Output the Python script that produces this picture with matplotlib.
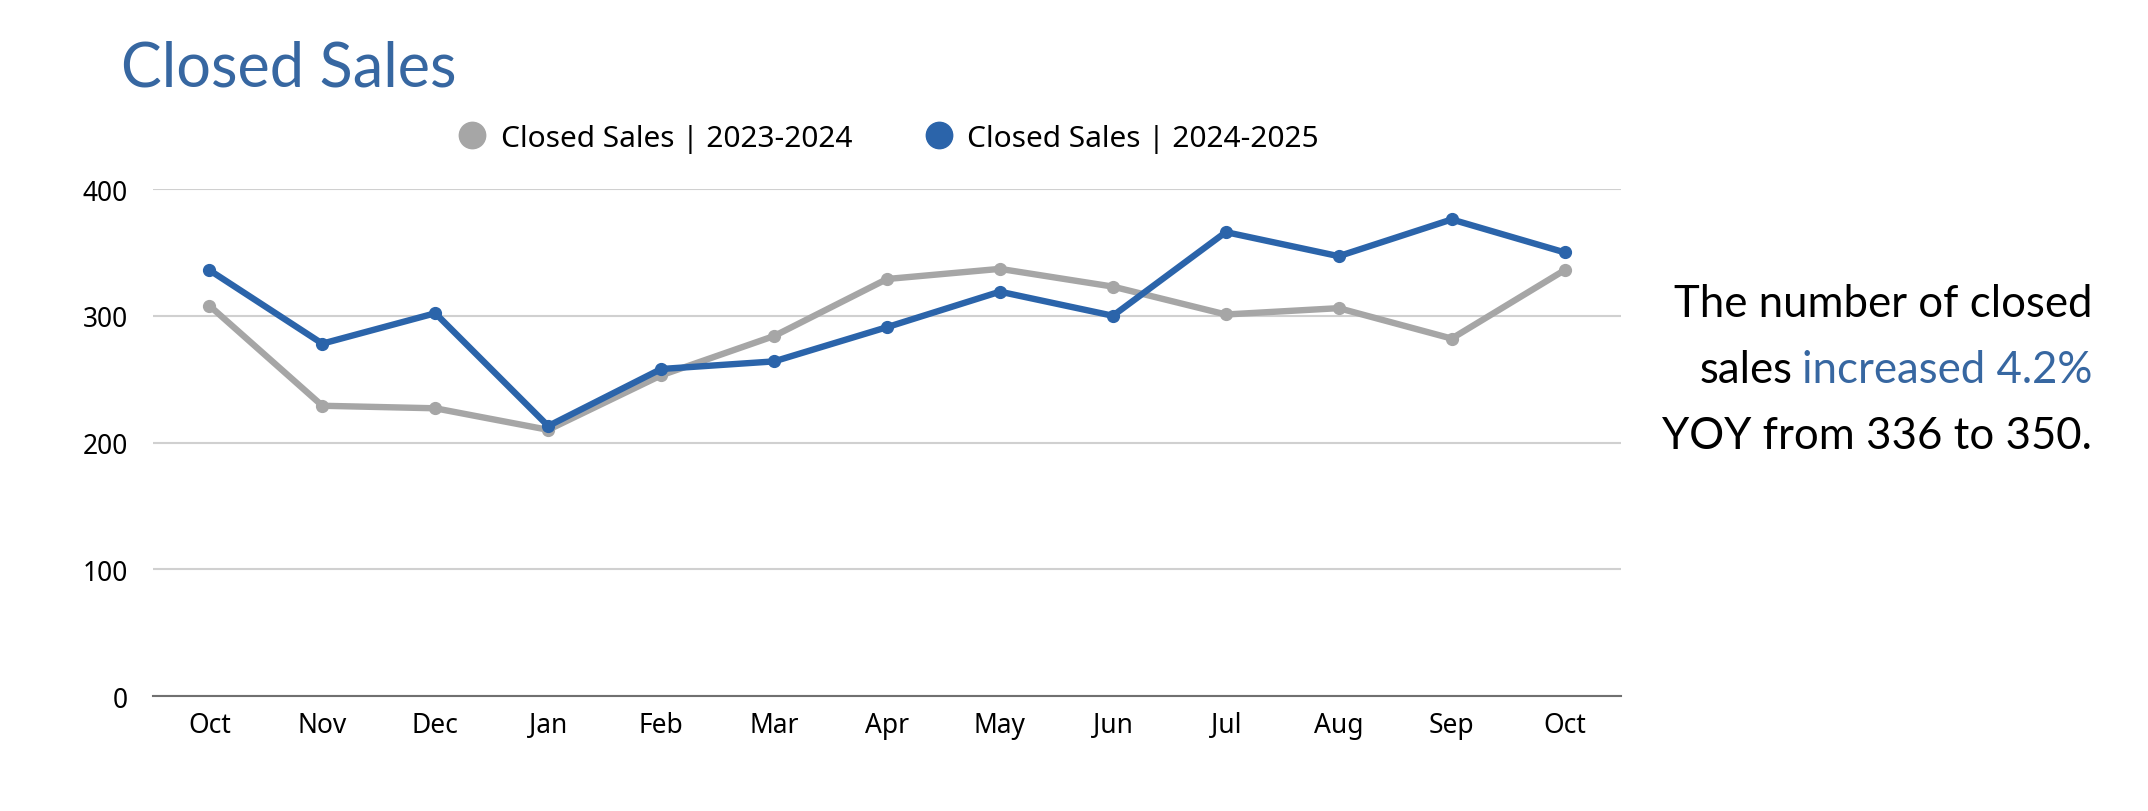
import matplotlib.pyplot as plt
from matplotlib.lines import Line2D
import numpy as np

# data
months = ['Oct', 'Nov', 'Dec', 'Jan', 'Feb', 'Mar', 'Apr',
          'May', 'Jun', 'Jul', 'Aug', 'Sep', 'Oct']
sales_2324 = [308, 229, 227, 210, 253, 284, 329, 337, 323, 301, 306, 282, 336]
sales_2425 = [336, 278, 302, 213, 258, 264, 291, 319, 300, 366, 347, 376, 350]
label_2324 = 'Closed Sales | 2023-2024'
label_2425 = 'Closed Sales | 2024-2025'

gray = '#A6A6A6'
blue = '#2B64AA'
title_blue = '#3767A1'

plt.rcParams['font.family'] = ['Noto Sans', 'DejaVu Sans']
head_font = ['Lato', 'DejaVu Sans']

fig = plt.figure(figsize=(21.48, 8.12), dpi=100)
ax = fig.add_axes([0.0712, 0.1416, 0.6835, 0.6244])

x = np.arange(len(months))
ax.plot(x, sales_2324, color=gray, lw=4.6, marker='o', ms=8.5,
        solid_capstyle='round', zorder=3)
ax.plot(x, sales_2425, color=blue, lw=4.6, marker='o', ms=8.5,
        solid_capstyle='round', zorder=4)

ax.set_xlim(-0.5, len(months) - 0.5)
ax.set_ylim(0, 400)
ax.set_yticks([0, 100, 200, 300, 400])
ax.set_xticks(x)
ax.set_xticklabels(months)
ax.tick_params(axis='both', length=0, labelsize=19)
ax.tick_params(axis='x', pad=11)
ax.tick_params(axis='y', pad=18)
ax.grid(axis='y', color='#D0D0D0', lw=1.5, zorder=0)
ax.set_axisbelow(True)
for s in ['top', 'right', 'left']:
    ax.spines[s].set_visible(False)
ax.spines['bottom'].set_color('#707070')
ax.spines['bottom'].set_linewidth(1.5)
ax.spines['bottom'].set_zorder(2)

# title
fig.text(121 / 2148, 1 - 69 / 812, 'Closed Sales', color=title_blue,
         fontsize=44, va='center', ha='left', family=head_font)

# legend
handles = [Line2D([], [], ls='none', marker='o', ms=19, color=gray),
           Line2D([], [], ls='none', marker='o', ms=19, color=blue)]
fig.legend(handles, [label_2324, label_2425], loc='center',
           bbox_to_anchor=(888 / 2148, 1 - 139 / 812), ncol=2, frameon=False,
           fontsize=21.5, handletextpad=0.45, columnspacing=2.4, handlelength=1.0)

# annotation on the right
xr = 2092 / 2148
fsz = 31.5
fig.text(xr, 1 - 305 / 812, 'The number of closed', fontsize=fsz,
         ha='right', va='center', color='black', family=head_font)
blue_txt = fig.text(xr, 1 - 371 / 812, 'increased 4.2%', fontsize=fsz,
                    ha='right', va='center', color=title_blue, family=head_font)
fig.canvas.draw()
bb = blue_txt.get_window_extent(renderer=fig.canvas.get_renderer())
fig.text(bb.x0 / fig.bbox.width - 0.004, 1 - 371 / 812, 'sales', fontsize=fsz,
         ha='right', va='center', color='black', family=head_font)
fig.text(xr, 1 - 437 / 812, 'YOY from 336 to 350.', fontsize=fsz,
         ha='right', va='center', color='black', family=head_font)

fig.savefig('out.png', dpi=100)
